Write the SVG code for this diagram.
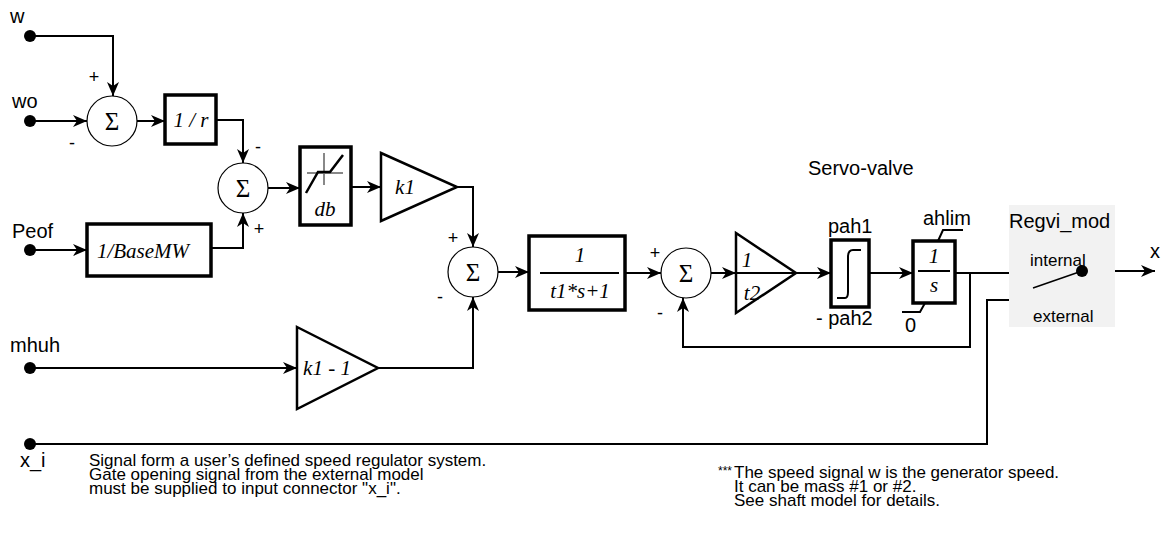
<svg xmlns="http://www.w3.org/2000/svg" width="1169" height="554" viewBox="0 0 1169 554">
<defs>
<marker id="ar" markerUnits="userSpaceOnUse" markerWidth="16" markerHeight="12" refX="14" refY="6" orient="auto">
<path d="M0,0 L14,6 L0,12 L4,6 Z" fill="#000"/>
</marker>
<style>
.ln{stroke:#000;stroke-width:2;fill:none}
.bx{stroke:#000;stroke-width:3.5;fill:#fff}
.sm{stroke:#000;stroke-width:1.2;fill:#fff}
.tr{stroke:#000;stroke-width:2.5;fill:#fff;stroke-linejoin:miter}
.dot{fill:#000}
.lb{font-family:"Liberation Sans",Arial,sans-serif;font-size:20px;fill:#000}
.sl{font-family:"Liberation Sans",Arial,sans-serif;font-size:17px;fill:#000}
.sg{font-family:"Liberation Sans",Arial,sans-serif;font-size:18px;fill:#000;text-anchor:middle}
.mi{font-family:"Liberation Serif","Times New Roman",serif;font-style:italic;font-size:21px;fill:#000;text-anchor:middle}
.sig{font-family:"Liberation Serif","Times New Roman",serif;font-size:25px;fill:#000;text-anchor:middle}
.nt{font-family:"Liberation Sans",Arial,sans-serif;font-size:17px;fill:#000}
</style>
</defs>
<rect width="1169" height="554" fill="#fff"/>

<g id="connectors">
<path class="ln" d="M30,36 H113 V96" marker-end="url(#ar)"/>
<path class="ln" d="M30,121 H87" marker-end="url(#ar)"/>
<path class="ln" d="M137,121 H165" marker-end="url(#ar)"/>
<path class="ln" d="M216,120 H243 V163" marker-end="url(#ar)"/>
<path class="ln" d="M30,250 H87" marker-end="url(#ar)"/>
<path class="ln" d="M211,248 H243 V213" marker-end="url(#ar)"/>
<path class="ln" d="M268,188 H300" marker-end="url(#ar)"/>
<path class="ln" d="M351,187 H381" marker-end="url(#ar)"/>
<path class="ln" d="M457,187 H473 V247" marker-end="url(#ar)"/>
<path class="ln" d="M30,368 H297" marker-end="url(#ar)"/>
<path class="ln" d="M378,368 H473 V297" marker-end="url(#ar)"/>
<path class="ln" d="M498,272 H529" marker-end="url(#ar)"/>
<path class="ln" d="M625,273 H661" marker-end="url(#ar)"/>
<path class="ln" d="M711,273 H736" marker-end="url(#ar)"/>
<path class="ln" d="M796,273 H831" marker-end="url(#ar)"/>
<path class="ln" d="M869,273 H913" marker-end="url(#ar)"/>
<path class="ln" d="M955,273 H1038" marker-end="url(#ar)"/>
<path class="ln" d="M970,273 V347 H683 V298" marker-end="url(#ar)"/>
<path class="ln" d="M30,444 H987 V300 H1039" marker-end="url(#ar)"/>
<path class="ln" d="M1082,271 H1155" marker-end="url(#ar)"/>
</g>

<g id="in_w"><circle class="dot" cx="30" cy="36" r="6"/><text class="lb" x="10" y="23">w</text></g>
<g id="in_wo"><circle class="dot" cx="30" cy="121" r="6"/><text class="lb" x="12" y="108">wo</text></g>
<g id="in_peof"><circle class="dot" cx="30" cy="250" r="6"/><text class="lb" x="12" y="238">Peof</text></g>
<g id="in_mhuh"><circle class="dot" cx="30" cy="368" r="6"/><text class="lb" x="10" y="352">mhuh</text></g>
<g id="in_xi"><circle class="dot" cx="30" cy="444" r="6"/><text class="lb" x="20" y="467">x_i</text></g>

<g id="sum1"><circle class="sm" cx="112" cy="121" r="25"/><text class="sig" x="112" y="130">Σ</text>
<text class="sg" x="94" y="83">+</text><text class="sg" x="72" y="149">-</text></g>
<g id="inv_r"><rect class="bx" x="165" y="95" width="51" height="49"/><text class="mi" x="191" y="127">1 / r</text></g>
<g id="sum2"><circle class="sm" cx="243" cy="188" r="25"/><text class="sig" x="243" y="197">Σ</text>
<text class="sg" x="258" y="153">-</text><text class="sg" x="259" y="235">+</text></g>
<g id="basemw"><rect class="bx" x="87" y="224" width="124" height="52"/><text class="mi" x="143" y="258">1/BaseMW</text></g>
<g id="db"><rect class="bx" x="300" y="147" width="51" height="78"/>
<path d="M324,153 V185 M307,173 H343" stroke="#888" stroke-width="2" fill="none"/>
<path d="M306,193 L318,172 H330 L343,155" stroke="#000" stroke-width="2.5" fill="none"/>
<text class="mi" x="325" y="216">db</text></g>
<g id="k1"><path class="tr" d="M381,153 L457,187 L381,221 Z"/><text class="mi" x="405" y="194">k1</text></g>
<g id="k1m1"><path class="tr" d="M297,327 L378,368 L297,409 Z"/><text class="mi" x="327" y="375">k1 - 1</text></g>
<g id="sum3"><circle class="sm" cx="473" cy="272" r="25"/><text class="sig" x="473" y="281">Σ</text>
<text class="sg" x="453" y="244">+</text><text class="sg" x="440" y="303">-</text></g>
<g id="lag1"><rect class="bx" x="529" y="236" width="96" height="74"/>
<path d="M540,273 H619" stroke="#000" stroke-width="2"/>
<text class="mi" x="580" y="262">1</text><text class="mi" x="580" y="298">t1*s+1</text></g>
<g id="sum4"><circle class="sm" cx="686" cy="273" r="25"/><text class="sig" x="686" y="282">Σ</text>
<text class="sg" x="655" y="259">+</text><text class="sg" x="660" y="319">-</text></g>
<g id="t2"><path class="tr" d="M736,233 L796,273 L736,313 Z"/><path d="M736,273 H796" stroke="#000" stroke-width="2"/>
<text class="mi" x="747" y="267">1</text><text class="mi" x="752" y="300">t2</text></g>
<g id="servo_label"><text class="lb" x="808" y="175">Servo-valve</text></g>
<g id="limiter"><rect class="bx" x="831" y="240" width="38" height="67"/>
<path d="M837,298 H845 Q848,298 848,292 V257 Q848,250 853,250 H861" stroke="#000" stroke-width="2" fill="none"/>
<text class="lb" x="828" y="233">pah1</text><text class="lb" x="816" y="325">- pah2</text></g>
<g id="integrator"><rect class="bx" x="913" y="241" width="42" height="62"/>
<path d="M918,271 H950" stroke="#000" stroke-width="2"/>
<text class="mi" x="934" y="263">1</text><text class="mi" x="934" y="292">s</text>
<path d="M963,230 H943 L938,241 M902,312 H920 L925,303" stroke="#000" stroke-width="2" fill="none"/>
<text class="lb" x="923" y="225">ahlim</text><text class="lb" x="905" y="332">0</text></g>
<g id="switch"><rect x="1009" y="205" width="106" height="122" fill="#f2f2f2"/>
<text class="lb" x="1009" y="228">Regvi_mod</text>
<text class="sl" x="1030" y="266">internal</text>
<text class="sl" x="1033" y="322">external</text>
<path d="M1033,288 L1082,271" stroke="#000" stroke-width="1.5"/>
<circle class="dot" cx="1082" cy="271" r="6"/>
<text class="lb" x="1150" y="258">x</text></g>

<g id="note_left">
<text class="nt" x="89" y="466">Signal form a user’s defined speed regulator system.</text>
<text class="nt" x="89" y="480">Gate opening signal from the external model</text>
<text class="nt" x="89" y="494">must be supplied to input connector "x_i".</text>
</g>
<g id="note_right">
<text class="nt" x="718" y="475" style="font-size:12px">***</text>
<text class="nt" x="734" y="478">The speed signal w is the generator speed.</text>
<text class="nt" x="734" y="492">It can be mass #1 or #2.</text>
<text class="nt" x="734" y="506">See shaft model for details.</text>
</g>
</svg>
